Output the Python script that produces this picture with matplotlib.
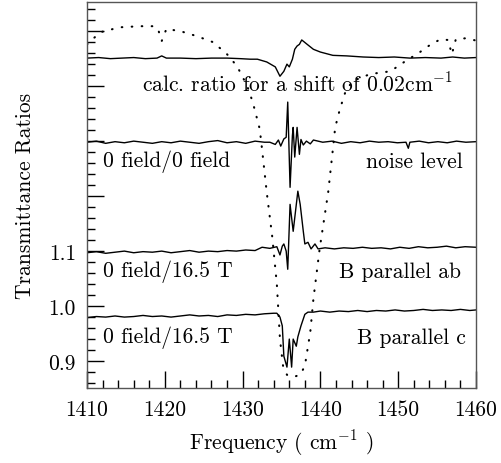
import matplotlib
matplotlib.use("Agg")
import matplotlib.pyplot as plt
from matplotlib.ticker import FixedLocator, MultipleLocator, FixedFormatter

plt.rcParams['font.family'] = ['cmr10', 'DejaVu Serif']
plt.rcParams['mathtext.fontset'] = 'cm'
plt.rcParams['axes.unicode_minus'] = False

# dotted curve: raw transmittance (scaled)
trans_x = [1410.0, 1411.7, 1414.2, 1416.8, 1418.4, 1419.1, 1419.6, 1420.2, 1422.0, 1424.1,
           1426.2, 1428.0, 1429.3, 1430.6, 1431.3, 1432.2, 1432.5, 1433.1, 1433.8, 1434.4,
           1434.8, 1435.2, 1435.7, 1436.5, 1437.4, 1438.0, 1438.7, 1439.1, 1439.9, 1441.0,
           1441.6, 1441.9, 1442.5, 1443.2, 1444.1, 1446.4, 1449.0, 1451.3, 1452.4, 1454.1,
           1455.4, 1456.4, 1456.9, 1457.4, 1458.6, 1460.0]
trans_y = [1.476, 1.498, 1.507, 1.509, 1.509, 1.505, 1.482, 1.504, 1.500, 1.491,
           1.480, 1.458, 1.436, 1.400, 1.371, 1.322, 1.285, 1.207, 1.127, 1.040,
           0.940, 0.891, 0.875, 0.871, 0.875, 0.891, 0.953, 1.013, 1.104, 1.207,
           1.285, 1.325, 1.358, 1.389, 1.409, 1.422, 1.427, 1.449, 1.458, 1.475,
           1.485, 1.484, 1.458, 1.485, 1.487, 1.483]

# calculated ratio for a 0.02 cm-1 shift
calc_x = [1410.0, 1411.5, 1413.0, 1414.5, 1416.0, 1417.5, 1419.0, 1419.6, 1420.2, 1422.0,
          1424.0, 1426.0, 1428.0, 1429.7, 1431.0, 1431.9, 1433.1, 1434.2, 1434.8, 1435.3,
          1435.7, 1436.0, 1436.4, 1436.7, 1437.0, 1437.3, 1437.6, 1438.3, 1439.1, 1440.0,
          1441.6, 1443.4, 1445.5, 1447.5, 1449.5, 1451.5, 1453.5, 1455.5, 1457.0, 1458.5, 1460.0]
calc_y = [1.451, 1.452, 1.450, 1.451, 1.452, 1.450, 1.451, 1.455, 1.451, 1.451,
          1.450, 1.451, 1.451, 1.450, 1.449, 1.449, 1.444, 1.435, 1.418, 1.427,
          1.440, 1.435, 1.449, 1.467, 1.473, 1.476, 1.484, 1.476, 1.467, 1.462,
          1.456, 1.455, 1.453, 1.452, 1.453, 1.451, 1.452, 1.451, 1.453, 1.451, 1.452]

# 0 field / 0 field (noise level)
noise_x = [1410.0, 1411.2, 1412.4, 1413.6, 1414.8, 1416.0, 1417.2, 1418.4, 1419.6, 1420.8,
           1422.0, 1423.2, 1424.4, 1425.6, 1426.8, 1428.0, 1429.2, 1430.4, 1431.6, 1432.8,
           1433.5, 1434.2, 1434.6, 1434.9, 1435.3, 1435.6, 1435.8, 1436.1, 1436.4, 1436.5,
           1436.7, 1437.0, 1437.3, 1437.5, 1437.8, 1438.2, 1438.7, 1439.1, 1440.3, 1441.5,
           1442.7, 1443.9, 1445.1, 1446.3, 1447.5, 1448.7, 1449.9, 1451.0, 1451.3, 1451.5,
           1452.7, 1453.9, 1455.1, 1456.3, 1457.5, 1458.7, 1460.0]
noise_y = [1.298, 1.300, 1.296, 1.299, 1.297, 1.300, 1.298, 1.296, 1.299, 1.297,
           1.300, 1.298, 1.296, 1.299, 1.301, 1.297, 1.299, 1.296, 1.300, 1.298,
           1.298, 1.294, 1.302, 1.291, 1.304, 1.307, 1.371, 1.216, 1.310, 1.325,
           1.271, 1.325, 1.276, 1.303, 1.293, 1.300, 1.295, 1.302, 1.298, 1.300,
           1.296, 1.299, 1.297, 1.300, 1.298, 1.299, 1.297, 1.298, 1.287, 1.298,
           1.300, 1.297, 1.299, 1.297, 1.300, 1.298, 1.299]

# 0 field / 16.5 T, B parallel ab
ab_x = [1410.0, 1411.2, 1412.4, 1413.6, 1414.8, 1416.0, 1417.2, 1418.4, 1419.6, 1420.8,
        1422.0, 1423.2, 1424.4, 1425.6, 1426.8, 1428.0, 1429.2, 1430.4, 1431.6, 1432.5,
        1433.5, 1434.4, 1434.8, 1435.1, 1435.3, 1435.6, 1435.8, 1436.1, 1436.5, 1437.1,
        1437.4, 1437.8, 1438.0, 1438.4, 1438.8, 1439.3, 1439.7, 1440.6, 1441.8, 1443.0,
        1444.2, 1445.4, 1446.6, 1447.8, 1449.0, 1450.2, 1451.4, 1452.6, 1453.8, 1455.0,
        1456.2, 1457.4, 1458.6, 1460.0]
ab_y = [1.097, 1.099, 1.096, 1.098, 1.100, 1.097, 1.099, 1.098, 1.100, 1.097,
        1.099, 1.101, 1.098, 1.100, 1.099, 1.101, 1.100, 1.102, 1.101, 1.107,
        1.105, 1.108, 1.093, 1.109, 1.113, 1.100, 1.067, 1.185, 1.136, 1.209,
        1.185, 1.136, 1.113, 1.116, 1.104, 1.113, 1.104, 1.106, 1.104, 1.106,
        1.105, 1.107, 1.105, 1.106, 1.104, 1.107, 1.105, 1.108, 1.106, 1.107,
        1.109, 1.106, 1.108, 1.107]

# 0 field / 16.5 T, B parallel c
c_x = [1410.0, 1411.2, 1412.4, 1413.6, 1414.8, 1416.0, 1417.2, 1418.4, 1419.6, 1420.8,
       1422.0, 1423.2, 1424.4, 1425.6, 1426.8, 1428.0, 1429.2, 1430.4, 1431.6, 1432.8,
       1434.0, 1434.4, 1434.8, 1435.1, 1435.3, 1435.7, 1436.0, 1436.3, 1436.5, 1436.9,
       1437.1, 1437.5, 1438.0, 1438.4, 1439.1, 1440.0, 1441.2, 1442.4, 1443.6, 1444.8,
       1446.0, 1447.2, 1448.4, 1449.6, 1450.8, 1452.0, 1453.2, 1454.4, 1455.6, 1456.8,
       1458.0, 1459.2, 1460.0]
c_y = [0.979, 0.981, 0.980, 0.982, 0.980, 0.981, 0.983, 0.981, 0.982, 0.980,
       0.982, 0.984, 0.982, 0.983, 0.981, 0.984, 0.983, 0.985, 0.984, 0.986,
       0.987, 0.987, 0.980, 0.964, 0.909, 0.889, 0.940, 0.889, 0.940, 0.927,
       0.944, 0.964, 0.985, 0.989, 0.989, 0.991, 0.989, 0.991, 0.990, 0.992,
       0.990, 0.992, 0.991, 0.993, 0.991, 0.992, 0.994, 0.992, 0.993, 0.992,
       0.994, 0.992, 0.993]

y_major = [0.9, 1.0, 1.1, 1.2, 1.3, 1.4, 1.5]
y_labels = ["0.9", "1.0", "1.1", "", "", "", ""]

fig = plt.figure(figsize=(5.01, 4.64), dpi=100)
ax = fig.add_axes([0.1737, 0.1616, 0.7764, 0.8319])

# dotted raw spectrum, sparse round dots
ax.plot(trans_x, trans_y, color='k', lw=1.5, linestyle=(0, (0.3, 4.5)), dash_capstyle='round')
ax.plot(calc_x, calc_y, color='k', lw=1.0)
ax.plot(noise_x, noise_y, color='k', lw=1.0)
ax.plot(ab_x, ab_y, color='k', lw=1.0)
ax.plot(c_x, c_y, color='k', lw=1.0)

fs = 15.5
ax.text(1417.1, 1.407, r"calc. ratio for a shift of 0.02cm$^{-1}$", fontsize=fs, va='center')
ax.text(1412.0, 1.264, "0 field/0 field", fontsize=fs, va='center')
ax.text(1458.3, 1.264, "noise level", fontsize=fs, va='center', ha='right')
ax.text(1412.0, 1.064, "0 field/16.5 T", fontsize=fs, va='center')
ax.text(1458.1, 1.064, "B parallel ab", fontsize=fs, va='center', ha='right')
ax.text(1412.0, 0.944, "0 field/16.5 T", fontsize=fs, va='center')
ax.text(1458.7, 0.944, "B parallel c", fontsize=fs, va='center', ha='right')

ax.set_xlim(1410, 1460)
ax.set_ylim(0.851, 1.553)
ax.xaxis.set_major_locator(MultipleLocator(10))
ax.xaxis.set_minor_locator(MultipleLocator(2))
ax.yaxis.set_major_locator(FixedLocator(y_major))
ax.yaxis.set_major_formatter(FixedFormatter(y_labels))
ax.yaxis.set_minor_locator(MultipleLocator(0.02))
ax.tick_params(which='both', direction='in', top=False, right=False,
               labelsize=fs, width=1.0, color='k')
ax.tick_params(which='major', length=12, pad=8)
ax.tick_params(which='minor', length=5.5)
for s in ax.spines.values():
    s.set_color('#555555')
    s.set_linewidth(1.0)

ax.set_xlabel(r"Frequency ( cm$^{-1}$ )", fontsize=fs, labelpad=6)
ax.set_ylabel("Transmittance Ratios", fontsize=fs, labelpad=10)

fig.savefig("out.png", dpi=100)
